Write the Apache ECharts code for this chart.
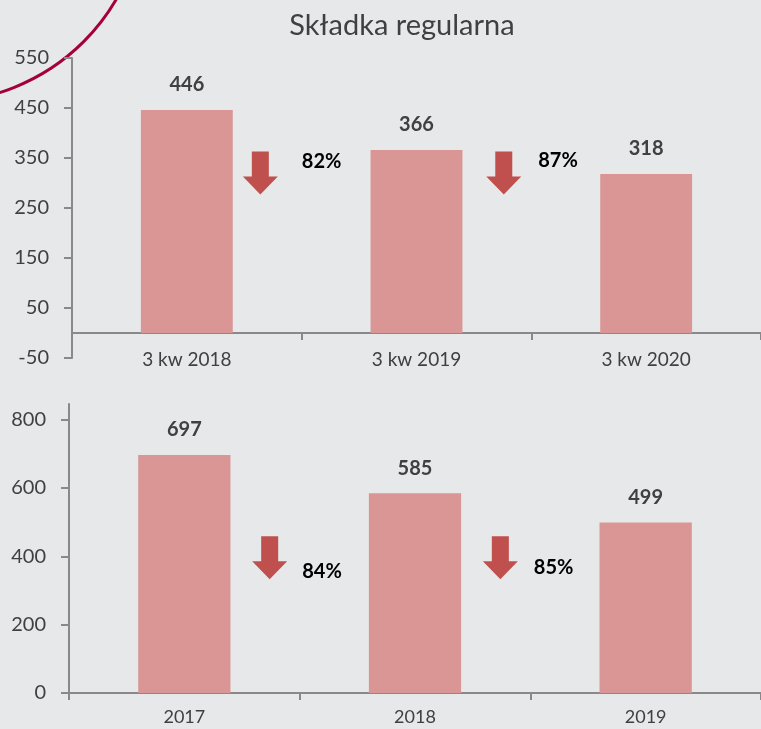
<!DOCTYPE html>
<html>
<head>
<meta charset="utf-8">
<script src="https://cdn.jsdelivr.net/npm/echarts@6/dist/echarts.min.js"></script>
<style>
    html, body { margin: 0; padding: 0; background: #e7e8ea; }
    #chart { width: 761px; height: 729px; }
</style>
</head>
<body>
<div id="chart"></div>
<script>
const TITLE = 'Składka regularna';

const quarterCategories = ['3 kw 2018', '3 kw 2019', '3 kw 2020'];
const quarterValues = [446, 366, 318];
const quarterChange = ['82%', '87%'];
const quarterTicks = [-50, 50, 150, 250, 350, 450, 550];

const yearCategories = ['2017', '2018', '2019'];
const yearValues = [697, 585, 499];
const yearChange = ['84%', '85%'];
const yearTicks = [0, 200, 400, 600, 800];

const BAR_COLOR = '#d99694';
const ARROW_COLOR = '#c0504d';
const AXIS_COLOR = '#898989';
const TEXT_COLOR = '#404040';
const FONT = 'Lato';
const ARROW_PATH = 'path://M9,0 L26,0 L26,25 L35,25 L17.5,43 L0,25 L9,25 Z';

let chart = echarts.init(document.getElementById('chart'));

function valueAxis(gridIndex, min, max, ticks) {
    return {
        type: 'value',
        gridIndex: gridIndex,
        min: min,
        max: max,
        splitLine: { show: false },
        axisLine: { show: true, lineStyle: { color: AXIS_COLOR, width: 2 } },
        axisTick: { show: true, length: 8, customValues: ticks, lineStyle: { color: AXIS_COLOR, width: 2 } },
        axisLabel: {
            customValues: ticks,
            margin: 23,
            color: TEXT_COLOR,
            fontFamily: FONT,
            fontSize: 20
        }
    };
}

function categoryAxis(gridIndex, data, margin, fontSize) {
    return {
        type: 'category',
        gridIndex: gridIndex,
        data: data,
        axisLine: { show: true, onZero: true, lineStyle: { color: AXIS_COLOR, width: 2 } },
        axisTick: { show: true, length: 7, lineStyle: { color: AXIS_COLOR, width: 2 } },
        axisLabel: {
            margin: margin,
            color: TEXT_COLOR,
            fontFamily: FONT,
            fontSize: fontSize
        }
    };
}

/* hidden axis used to place the change arrows between the bars */
function helperAxis(gridIndex) {
    return { type: 'value', gridIndex: gridIndex, min: 0, max: 3, show: false };
}

function barSeries(axisIndex, values) {
    return {
        type: 'bar',
        xAxisIndex: axisIndex,
        yAxisIndex: axisIndex,
        data: values,
        barWidth: '40%',
        itemStyle: { color: BAR_COLOR },
        label: {
            show: true,
            position: 'top',
            distance: 15,
            color: TEXT_COLOR,
            fontFamily: FONT,
            fontWeight: 'bold',
            fontSize: 20
        },
        silent: true
    };
}

function arrowSeries(xIndex, yIndex, points, changes, offsets) {
    return {
        type: 'scatter',
        xAxisIndex: xIndex,
        yAxisIndex: yIndex,
        symbol: ARROW_PATH,
        symbolSize: [35, 43],
        itemStyle: { color: ARROW_COLOR, opacity: 1 },
        data: points.map(function (p, i) {
            return {
                value: p,
                label: { offset: offsets[i], formatter: changes[i] }
            };
        }),
        label: {
            show: true,
            position: 'right',
            distance: 0,
            color: '#000',
            fontFamily: FONT,
            fontWeight: 'bold',
            fontSize: 20
        },
        silent: true
    };
}

let option = {
    backgroundColor: '#e7e8ea',
    animation: false,
    title: {
        text: TITLE,
        left: 397,
        textAlign: 'center',
        top: 6,
        textStyle: { color: TEXT_COLOR, fontFamily: FONT, fontWeight: 'normal', fontSize: 29 }
    },
    grid: [
        { left: 72, top: 58, width: 693, height: 300 },
        { left: 69, top: 404, width: 693, height: 289 }
    ],
    xAxis: [
        categoryAxis(0, quarterCategories, -8, 19),
        categoryAxis(1, yearCategories, 15, 18),
        helperAxis(0),
        helperAxis(1)
    ],
    yAxis: [
        valueAxis(0, -50, 550, quarterTicks),
        valueAxis(1, 0, 846, yearTicks)
    ],
    series: [
        barSeries(0, quarterValues),
        barSeries(1, yearValues),
        arrowSeries(2, 0, [[0.82, 320], [1.88, 320]], quarterChange, [[24, -11], [17, -12]]),
        arrowSeries(3, 1, [[0.87, 396], [1.87, 396]], yearChange, [[15, 14], [16, 10]])
    ],
    graphic: [
        {
            type: 'circle',
            shape: { cx: -62, cy: -104, r: 206 },
            style: { fill: 'none', stroke: '#a5003a', lineWidth: 3 },
            silent: true
        }
    ]
};
chart.setOption(option);

window.addEventListener('resize', function () {
    chart?.resize();
});
</script>
</body>
</html>
